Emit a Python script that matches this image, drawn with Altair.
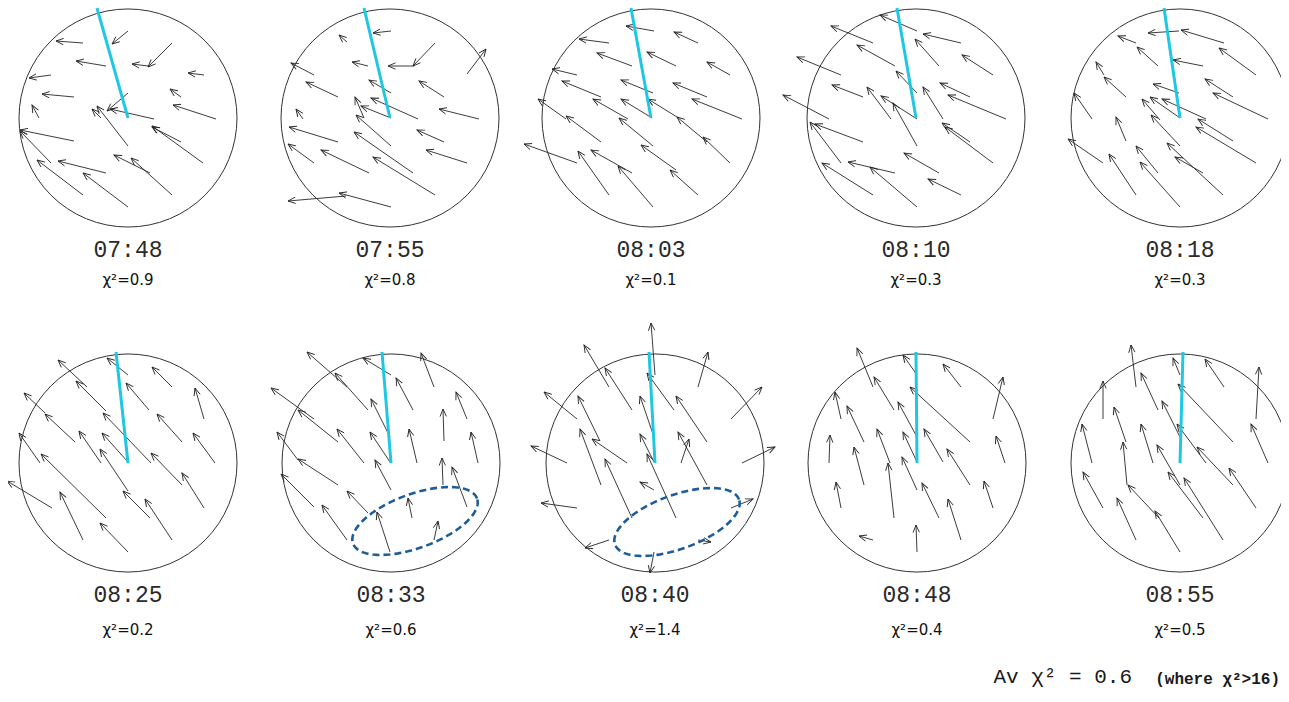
import math
import numpy as np
import pandas as pd
import altair as alt

# ---------------- data (pixel coordinates) ----------------
TIMES = ["07:48", "07:55", "08:03", "08:10", "08:18", "08:25", "08:33", "08:40", "08:48", "08:55"]
CHI2 = ["0.9", "0.8", "0.1", "0.3", "0.3", "0.2", "0.6", "1.4", "0.4", "0.5"]
CENTER_X = [128, 390, 651, 916, 1180, 128, 391, 655, 917, 1180]
CENTER_Y = [118, 118, 118, 118, 118, 463, 463, 463, 463, 463]
RADIUS = 109
CYAN_TIP_X = [97, 364, 631, 897, 1164, 116, 382, 649, 916, 1183]
CYAN_TIP_Y = [8, 8, 8, 8, 8, 352, 352, 352, 352, 352]
TIME_Y = [250, 595]
CHI_Y = [280, 630]

# ellipses: panel index, centre x, centre y, semi-major, semi-minor, tilt (deg)
ELLIPSES = [(6, 415, 521, 66, 27, 20), (7, 677, 522, 66, 27, 20)]

# arrows: (tail_x, tail_y, head_x, head_y)
A1 = [(128,31,112,44),(83,43,56,41),(106,66,76,61),(172,43,148,67),(148,66,132,64),
      (204,75,188,73),(51,75,29,78),(74,97,42,94),(181,97,170,89),(216,119,173,105),
      (39,118,32,105),(128,93,107,111),(154,119,110,109),(101,118,92,109),(128,146,97,106),
      (74,141,20,130),(51,163,20,131),(106,173,58,161),(83,195,37,160),(128,207,83,173),
      (203,163,152,126),(181,142,152,127),(172,195,131,158),(150,173,114,155)]
A2 = [(391,31,373,33),(347,42,339,35),(435,43,413,66),(414,66,388,66),(368,66,352,62),
      (314,75,291,63),(467,74,486,49),(338,97,306,82),(391,93,369,80),(444,97,419,81),
      (303,119,296,109),(364,118,355,97),(391,118,361,106),(418,119,371,98),(479,119,439,109),
      (391,146,356,115),(338,142,289,127),(444,142,417,130),(314,163,288,144),(369,173,321,150),
      (413,173,354,132),(467,163,426,150),(435,195,373,157),(391,207,339,193),(346,196,288,201)]
A3 = [(654,31,626,26),(698,43,674,32),(609,43,579,39),(632,66,597,53),(676,66,647,52),
      (730,75,707,62),(577,75,552,69),(601,97,562,81),(653,93,621,80),(707,97,673,83),
      (652,118,621,99),(628,119,593,99),(566,119,538,99),(677,117,648,99),(742,119,692,99),
      (601,142,566,116),(653,146,619,118),(707,142,677,117),(577,163,524,144),(632,173,591,150),
      (730,163,703,137),(609,195,578,151),(653,207,618,166),(698,195,670,170),(676,170,641,145)]
A4 = [(917,31,880,15),(961,43,923,34),(873,43,831,26),(939,66,915,39),(895,66,857,45),
      (993,75,962,55),(841,75,797,57),(917,93,896,71),(863,97,832,85),(891,119,867,87),
      (917,119,881,96),(943,119,923,87),(970,97,940,83),(1006,119,948,95),(829,119,783,95),
      (917,146,893,103),(863,142,815,124),(970,142,942,123),(993,163,945,127),(841,163,810,122),
      (895,173,848,162),(873,195,822,163),(917,207,870,167),(939,173,904,153),(961,195,928,179)]
A5 = [(1179,31,1148,33),(1224,43,1181,30),(1136,43,1118,36),(1158,66,1137,47),(1203,66,1173,60),
      (1256,75,1219,48),(1104,75,1096,62),(1126,97,1104,77),(1179,93,1153,84),(1233,97,1205,79),
      (1268,119,1213,93),(1092,119,1074,93),(1180,118,1150,97),(1206,119,1162,99),(1160,120,1142,99),
      (1180,146,1151,115),(1126,141,1116,117),(1233,141,1198,119),(1256,163,1196,127),(1103,163,1068,139),
      (1158,173,1136,146),(1136,195,1109,154),(1180,207,1140,162),(1223,195,1167,143),(1203,173,1175,157)]
A6 = [(128,375,107,358),(172,387,152,367),(87,387,58,360),(106,411,76,381),(149,410,126,383),
      (204,419,195,388),(45,413,24,393),(75,442,45,414),(182,442,157,414),(215,463,193,433),
      (40,463,19,433),(101,463,79,431),(128,462,102,433),(151,463,103,413),(182,485,151,453),
      (128,491,100,449),(204,508,182,473),(106,518,41,454),(52,508,7,481),(150,518,123,491),
      (83,540,60,492),(172,540,145,499),(128,552,100,523)]
A7 = [(391,375,363,358),(434,387,421,353),(347,387,307,352),(368,410,335,373),(413,410,396,378),
      (467,419,456,392),(314,419,271,388),(338,442,298,410),(390,437,371,399),(444,441,443,409),
      (478,463,471,432),(417,463,409,429),(364,463,337,429),(390,462,370,432),(298,460,277,432),
      (338,485,298,459),(391,490,375,460),(443,485,442,458),(467,507,452,467),(314,507,281,474),
      (368,513,347,491),(412,518,408,498),(347,540,322,505),(390,552,377,512),(434,540,438,521)]
A8 = [(609,387,584,345),(655,375,651,323),(698,387,708,352),(632,410,605,368),(674,410,647,373),
      (731,419,762,387),(577,419,544,392),(600,441,578,396),(654,437,640,396),(707,442,676,396),
      (627,463,592,439),(567,463,531,446),(601,485,580,429),(654,462,640,434),(681,463,689,439),
      (742,463,775,447),(707,485,678,432),(654,490,640,482),(577,508,541,503),(632,518,605,459),
      (676,518,647,454),(731,508,753,499),(609,540,585,548),(698,540,711,542),(654,552,650,573)]
A9 = [(873,387,857,348),(917,375,903,355),(961,387,943,364),(993,419,1003,377),(841,419,835,392),
      (894,410,874,377),(970,442,910,387),(864,442,847,406),(917,437,898,402),(829,463,830,435),
      (890,463,877,429),(917,462,903,432),(943,462,924,429),(1005,463,996,436),(864,485,854,447),
      (917,490,902,457),(970,485,947,449),(841,508,836,482),(894,518,888,463),(939,518,922,483),
      (993,508,984,481),(961,540,948,499),(873,540,859,536),(917,552,916,525)]
A10 = [(1136,387,1131,345),(1180,375,1173,358),(1224,387,1205,359),(1256,419,1259,367),(1103,419,1103,381),
       (1158,410,1141,373),(1233,442,1178,384),(1126,442,1114,407),(1180,437,1162,401),(1092,463,1082,424),
       (1153,463,1141,424),(1206,463,1177,424),(1268,463,1251,424),(1127,485,1123,442),(1180,485,1157,445),
       (1233,485,1197,447),(1103,508,1083,472),(1159,518,1128,485),(1203,518,1168,472),(1256,508,1229,468),
       (1136,540,1117,498),(1180,552,1155,511),(1223,540,1184,478)]
ARROWS = [A1, A2, A3, A4, A5, A6, A7, A8, A9, A10]

FOOTER_TEXT = ["Av χ² = 0.6", "(where χ²>16)"]
FOOTER_X = [1132, 1280]
FOOTER_Y = [677, 679]

# ---------------- tables ----------------
rows = []
for p, lst in enumerate(ARROWS):
    for (tx, ty, hx, hy) in lst:
        ang = math.degrees(math.atan2(hx - tx, -(hy - ty))) % 360
        rows.append(dict(panel=p, x=tx, y=ty, x2=hx, y2=hy, angle=ang))
arrows = pd.DataFrame(rows)

panels = pd.DataFrame(dict(
    panel=list(range(10)), cx=CENTER_X, cy=CENTER_Y, tx=CYAN_TIP_X, ty=CYAN_TIP_Y,
    time=TIMES, chi=["χ²=" + c for c in CHI2],
    time_y=[TIME_Y[i // 5] for i in range(10)], chi_y=[CHI_Y[i // 5] for i in range(10)],
))

erows = []
for (p, ex, ey, a, b, phi) in ELLIPSES:
    f = math.radians(phi)
    for k, t in enumerate(np.linspace(0, 2 * math.pi, 121)):
        erows.append(dict(panel=p, k=k,
                          x=ex + a * math.cos(t) * math.cos(f) - b * math.sin(t) * math.sin(f),
                          y=ey - (a * math.cos(t) * math.sin(f) + b * math.sin(t) * math.cos(f))))
ell = pd.DataFrame(erows)

footer = pd.DataFrame(dict(x=FOOTER_X, y=FOOTER_Y, text=FOOTER_TEXT))

XS = alt.Scale(domain=[8, 1281], nice=False, zero=False)
YS = alt.Scale(domain=[694, 8], nice=False, zero=False)

def X(f="x"):
    return alt.X(f + ":Q", scale=XS, axis=None)

def Y(f="y"):
    return alt.Y(f + ":Q", scale=YS, axis=None)

circles = alt.Chart(panels).mark_point(
    shape="circle", size=(2 * RADIUS) ** 2, filled=False, color="#333333",
    strokeWidth=1, opacity=1
).encode(x=X("cx"), y=Y("cy"))

shafts = alt.Chart(arrows).mark_rule(color="#262626", strokeWidth=0.9).encode(
    x=X("x"), y=Y("y"), x2="x2:Q", y2="y2:Q")

heads = alt.Chart(arrows).mark_point(
    shape="M-0.42,1L0,0L0.42,1", size=225, filled=False, color="#262626",
    strokeWidth=0.9, opacity=1
).encode(x=X("x2"), y=Y("y2"), angle=alt.Angle("angle:Q", scale=None))

cyan = alt.Chart(panels).mark_rule(color="#1EC8E3", strokeWidth=3).encode(
    x=X("cx"), y=Y("cy"), x2="tx:Q", y2="ty:Q")

ellipses = alt.Chart(ell).mark_line(
    color="#1F5D99", strokeWidth=2.6, strokeDash=[7, 4]
).encode(x=X("x"), y=Y("y"), detail="panel:N", order="k:Q")

time_txt = alt.Chart(panels).mark_text(
    font="Liberation Mono", fontSize=23, color="#2a2a2a", baseline="middle", align="center"
).encode(x=X("cx"), y=Y("time_y"), text="time:N")

chi_txt = alt.Chart(panels).mark_text(
    font="DejaVu Sans", fontSize=15, color="#111111", baseline="middle", align="center"
).encode(x=X("cx"), y=Y("chi_y"), text="chi:N")

foot_big = alt.Chart(footer.iloc[[0]]).mark_text(
    font="Liberation Mono", fontSize=21, color="#1a1a1a", baseline="middle", align="right"
).encode(x=X("x"), y=Y("y"), text="text:N")

foot_small = alt.Chart(footer.iloc[[1]]).mark_text(
    font="Liberation Mono", fontSize=16, fontWeight="bold", color="#1a1a1a",
    baseline="middle", align="right"
).encode(x=X("x"), y=Y("y"), text="text:N")

chart = alt.layer(
    circles, shafts, heads, cyan, ellipses, time_txt, chi_txt, foot_big, foot_small
).properties(
    width=1273, height=686, autosize=alt.AutoSizeParams(type="none"), padding=0
).configure_view(stroke=None)

chart.save("out.html", embed_options={"renderer": "svg", "actions": False})
